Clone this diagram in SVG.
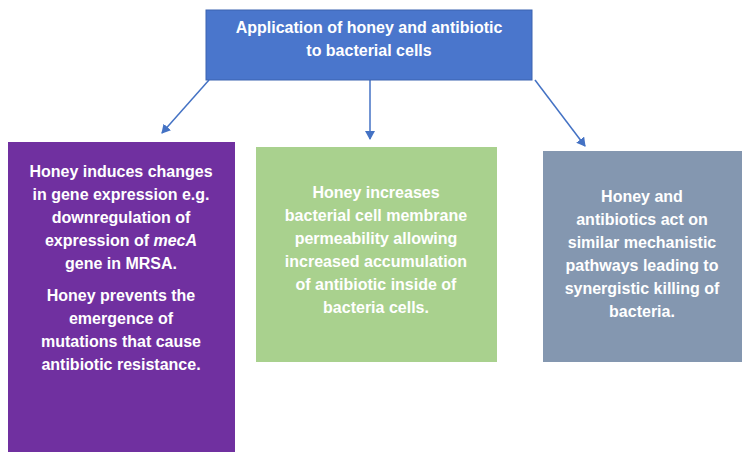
<svg xmlns="http://www.w3.org/2000/svg" width="750" height="456" viewBox="0 0 750 456">
<defs>
<style>
text{font-family:"Liberation Sans",Arial,sans-serif;font-weight:bold;fill:#fff;text-anchor:middle;font-size:16px}
.c{stroke:#4472C4;stroke-width:1.5;fill:none}
</style>
<marker id="ah" markerWidth="10" markerHeight="10" refX="8" refY="5" orient="auto" markerUnits="userSpaceOnUse"><path d="M0,0 L9,5 L0,10 z" fill="#4472C4"/></marker>
</defs>
<rect width="750" height="456" fill="#fff"/>
<g id="connectors">
<line class="c" x1="209" y1="80" x2="162" y2="133" marker-end="url(#ah)"/>
<line class="c" x1="370" y1="80" x2="370" y2="139" marker-end="url(#ah)"/>
<line class="c" x1="535" y1="80" x2="585" y2="146" marker-end="url(#ah)"/>
</g>
<g id="top">
<rect x="206" y="10" width="326" height="70" fill="#4A76CC" stroke="#3B63B0"/>
<text x="369" y="33">Application of honey and antibiotic</text>
<text x="369" y="56">to bacterial cells</text>
</g>
<g id="left">
<rect x="8" y="142" width="227" height="310" fill="#7030A0"/>
<text x="121" y="177">Honey induces changes</text>
<text x="121" y="200">in gene expression e.g.</text>
<text x="121" y="223">downregulation of</text>
<text x="121" y="246">expression of <tspan font-style="italic">mecA</tspan></text>
<text x="121" y="269">gene in MRSA.</text>
<text x="121" y="301">Honey prevents the</text>
<text x="121" y="324">emergence of</text>
<text x="121" y="347">mutations that cause</text>
<text x="121" y="370">antibiotic resistance.</text>
</g>
<g id="middle">
<rect x="256" y="147" width="241" height="215" fill="#A9D18E"/>
<text x="376" y="198">Honey increases</text>
<text x="376" y="221">bacterial cell membrane</text>
<text x="376" y="244">permeability allowing</text>
<text x="376" y="267">increased accumulation</text>
<text x="376" y="290">of antibiotic inside of</text>
<text x="376" y="313">bacteria cells.</text>
</g>
<g id="right">
<rect x="543" y="151" width="199" height="211" fill="#8497B0"/>
<text x="642" y="202">Honey and</text>
<text x="642" y="225">antibiotics act on</text>
<text x="642" y="248">similar mechanistic</text>
<text x="642" y="271">pathways leading to</text>
<text x="642" y="294">synergistic killing of</text>
<text x="642" y="317">bacteria.</text>
</g>
</svg>
